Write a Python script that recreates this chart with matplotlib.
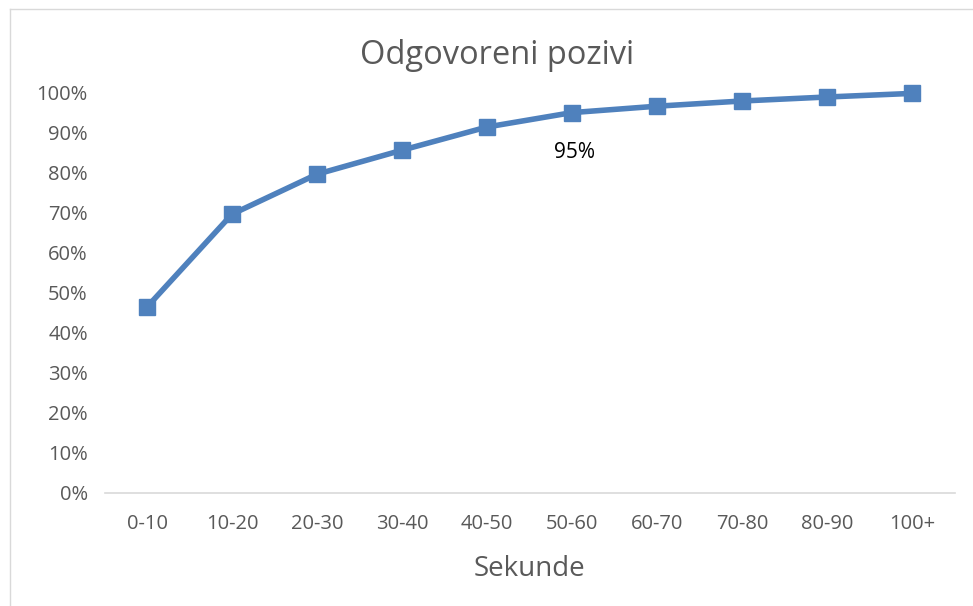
import matplotlib
matplotlib.use('Agg')
import matplotlib.pyplot as plt
from matplotlib.ticker import PercentFormatter

# Data
categories = ['0-10', '10-20', '20-30', '30-40', '40-50', '50-60',
              '60-70', '70-80', '80-90', '100+']
answered = [46.5, 69.7, 79.7, 85.7, 91.5, 95.1, 96.7, 98.0, 99.0, 99.9]
label_index = 5
label_text = '95%'

plt.rcParams['font.family'] = ['Open Sans', 'DejaVu Sans']

fig = plt.figure(figsize=(9.73, 6.06), dpi=100)
ax = fig.add_axes([104.5 / 973, 1 - 493 / 606, 850 / 973, 400 / 606])

# light frame around the chart (top and left only visible in the reference)
fig.add_artist(plt.Line2D([10 / 973, 1], [1 - 9 / 606, 1 - 9 / 606],
                          transform=fig.transFigure, color='#d9d9d9', lw=1))
fig.add_artist(plt.Line2D([10 / 973, 10 / 973], [0, 1 - 9 / 606],
                          transform=fig.transFigure, color='#d9d9d9', lw=1))

x = range(len(categories))
ax.plot(x, answered, color='#4f81bd', lw=4, marker='s', markersize=11,
        solid_joinstyle='round', clip_on=False, zorder=3)

ax.annotate(label_text, (label_index, answered[label_index]),
            xytext=(2, -33), textcoords='offset points', ha='center',
            fontsize=15, color='black')

ax.set_xlim(-0.5, len(categories) - 0.5)
ax.set_ylim(0, 100)
ax.set_yticks(range(0, 101, 10))
ax.yaxis.set_major_formatter(PercentFormatter(decimals=0))
ax.set_xticks(list(x))
ax.set_xticklabels(categories)

for side in ['top', 'right', 'left']:
    ax.spines[side].set_visible(False)
ax.spines['bottom'].set_color('#d9d9d9')
ax.spines['bottom'].set_linewidth(1.2)
ax.tick_params(axis='both', length=0, labelsize=14.5, labelcolor='#595959')
ax.tick_params(axis='x', pad=15)
ax.tick_params(axis='y', pad=12)

ax.set_xlabel('Sekunde', fontsize=20, color='#595959', labelpad=15)
fig.text(497 / 973, 1 - 55 / 606, 'Odgovoreni pozivi', ha='center', va='center',
         fontsize=23.5, color='#595959')

fig.savefig('out.png', dpi=100)
